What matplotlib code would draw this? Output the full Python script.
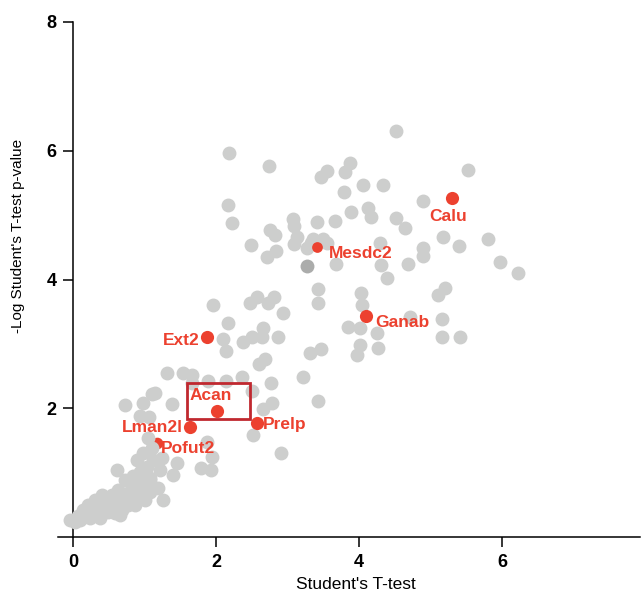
import matplotlib
matplotlib.use("Agg")
import matplotlib.pyplot as plt
from matplotlib.patches import Rectangle

plt.rcParams['font.family'] = ['Liberation Sans', 'DejaVu Sans']

# Grey (non-highlighted) proteins: Student's T-test difference vs -log p
grey_x = [4.52, 2.18, 2.74, 5.52, 3.47, 3.55, 3.80, 3.87, 3.79, 4.06, 4.34, 4.90, 2.17, 2.22,
          3.08, 3.09, 3.41, 3.66, 3.89, 4.13, 4.17, 4.52, 4.64, 5.17, 5.40, 5.80, 5.97, 6.22,
          2.76, 2.83, 2.49, 3.13, 3.09, 2.84, 2.71, 3.27, 3.36, 3.50, 4.29, 4.90, 4.90, 3.68,
          4.31, 4.69, 4.39, 5.10, 5.20, 3.43, 3.43, 4.03, 4.04, 1.96, 2.57, 2.48, 2.73, 2.81,
          2.94, 2.17, 2.66, 2.10, 2.14, 2.38, 2.50, 2.64, 2.87, 2.60, 2.69, 3.31, 3.47, 3.85,
          4.01, 4.25, 4.01, 3.97, 4.27, 4.71, 5.16, 5.16, 5.41, 1.31, 1.54, 1.66, 2.36, 2.77,
          3.22, 3.43, 1.15, 1.38, 2.50, 2.78, 2.66, 2.52, 2.91, 0.73, 0.98, 1.10, 0.94, 1.06,
          1.05, 1.10, 0.98, 0.90, 1.12, 1.24, 1.45, 0.62, 1.03, 1.22, 1.40, 1.08, 0.94, 0.84,
          1.26, 1.79, 1.93, 1.87, 1.94, 1.66, 1.89, 2.14, 3.55, 3.33,
          -0.04, 0.07, 0.17, 0.27, 0.35, 0.21, 0.38, 0.45, 0.52, 0.59, 0.66, 0.73, 0.55, 0.77,
          0.63, 0.83, 0.87, 0.94, 1.01, 1.08, 0.80, 0.91, 0.97, 0.41, 0.31, 0.49, 0.69, 0.73,
          0.84, 0.94, 0.77, 0.59, 0.10, 0.24, 0.87, 1.01, 1.08, 1.19, 0.66, 0.38, 0.03, 0.14,
          0.45]
grey_y = [6.31, 5.97, 5.76, 5.70, 5.59, 5.69, 5.67, 5.81, 5.36, 5.47, 5.47, 5.22, 5.16, 4.88,
          4.94, 4.83, 4.89, 4.91, 5.05, 5.11, 4.97, 4.96, 4.80, 4.66, 4.52, 4.63, 4.27, 4.10,
          4.77, 4.69, 4.54, 4.66, 4.55, 4.44, 4.35, 4.49, 4.63, 4.63, 4.57, 4.49, 4.37, 4.24,
          4.23, 4.24, 4.02, 3.76, 3.87, 3.85, 3.63, 3.79, 3.60, 3.60, 3.73, 3.63, 3.63, 3.73,
          3.48, 3.32, 3.25, 3.08, 2.89, 3.03, 3.11, 3.11, 3.11, 2.69, 2.77, 2.86, 2.92, 3.26,
          3.25, 3.17, 2.98, 2.83, 2.94, 3.42, 3.39, 3.11, 3.11, 2.55, 2.55, 2.52, 2.49, 2.39,
          2.49, 2.11, 2.24, 2.07, 2.27, 2.08, 1.99, 1.58, 1.30, 2.05, 2.08, 2.22, 1.88, 1.86,
          1.54, 1.38, 1.30, 1.20, 1.20, 1.23, 1.15, 1.04, 1.09, 1.04, 0.96, 0.89, 0.81, 0.76,
          0.57, 1.07, 1.04, 1.48, 1.24, 2.39, 2.42, 2.42, 4.57, 4.57,
          0.26, 0.33, 0.34, 0.39, 0.42, 0.50, 0.53, 0.45, 0.57, 0.50, 0.61, 0.53, 0.65, 0.68,
          0.73, 0.73, 0.81, 0.84, 0.89, 0.92, 0.57, 0.65, 0.61, 0.65, 0.57, 0.39, 0.42, 0.89,
          0.95, 1.01, 0.50, 0.37, 0.26, 0.30, 0.50, 0.57, 0.70, 0.76, 0.34, 0.30, 0.23, 0.42,
          0.61]

# One darker grey protein
dark_x = [3.27]
dark_y = [4.21]

# Highlighted proteins
hl_names = ['Calu', 'Mesdc2', 'Ganab', 'Ext2', 'Acan', 'Prelp', 'Lman2l', 'Pofut2']
hl_x = [5.30, 3.41, 4.10, 1.87, 2.01, 2.57, 1.64, 1.17]
hl_y = [5.26, 4.50, 3.43, 3.10, 1.96, 1.77, 1.71, 1.46]
hl_size = [90, 60, 90, 90, 90, 90, 90, 70]
hl_behind = [False, False, False, False, False, False, False, True]
label_offsets = [(-3, -13), (9, -4.5), (6.5, -4.3), (-5, -2), (-4, 11), (4.3, -0.7), (-5, -0.7), (3, -3.6)]
label_ha = ['center', 'left', 'left', 'right', 'center', 'left', 'right', 'left']

# Box around Acan (x0, y0, width, height)
box = (1.59, 1.83, 0.89, 0.56)

x_ticks = [0, 2, 4, 6]
y_ticks = [2, 4, 6, 8]

grey = '#CDCECD'
red = '#EC412F'

fig = plt.figure(figsize=(6.41, 5.98), dpi=100)
ax = fig.add_axes([58 / 641, 1 - 537 / 598, (640 - 58) / 641, (537 - 22) / 598])
ax.set_xlim(-0.21, 7.93)
ax.set_ylim(0, 8)

ax.scatter(grey_x, grey_y, s=100, color=grey, linewidths=0, zorder=2)
ax.scatter(dark_x, dark_y, s=100, color='#ABACAB', linewidths=0, zorder=2.5)
for name, x, y, size, behind, off, ha in zip(hl_names, hl_x, hl_y, hl_size, hl_behind,
                                            label_offsets, label_ha):
    ax.scatter([x], [y], s=size, color=red, linewidths=0, zorder=(1.5 if behind else 3))
    ax.annotate(name, (x, y), xytext=off, textcoords='offset points', ha=ha, va='center',
                color=red, fontsize=12.5, fontweight='bold', zorder=4)

ax.add_patch(Rectangle((box[0], box[1]), box[2], box[3], fill=False,
                       edgecolor='#C0282F', linewidth=2, zorder=3.5))

for s in ['top', 'right']:
    ax.spines[s].set_visible(False)
ax.spines['left'].set_position(('data', 0))
for s in ['left', 'bottom']:
    ax.spines[s].set_linewidth(1.1)
    ax.spines[s].set_zorder(1)

ax.set_xticks(x_ticks)
ax.set_yticks(y_ticks)
ax.tick_params(axis='both', direction='out', length=7, width=1.1, labelsize=13, pad=5)
for lbl in ax.get_xticklabels() + ax.get_yticklabels():
    lbl.set_fontweight('bold')

ax.set_xlabel("Student's T-test", fontsize=12.5, va='center')
ax.xaxis.set_label_coords(0.512, -0.093)
ax.set_ylabel("-Log Student's T-test p-value", fontsize=11, va='center')
ax.yaxis.set_label_coords(-0.069, 0.585)

fig.savefig('out.png', dpi=100)
